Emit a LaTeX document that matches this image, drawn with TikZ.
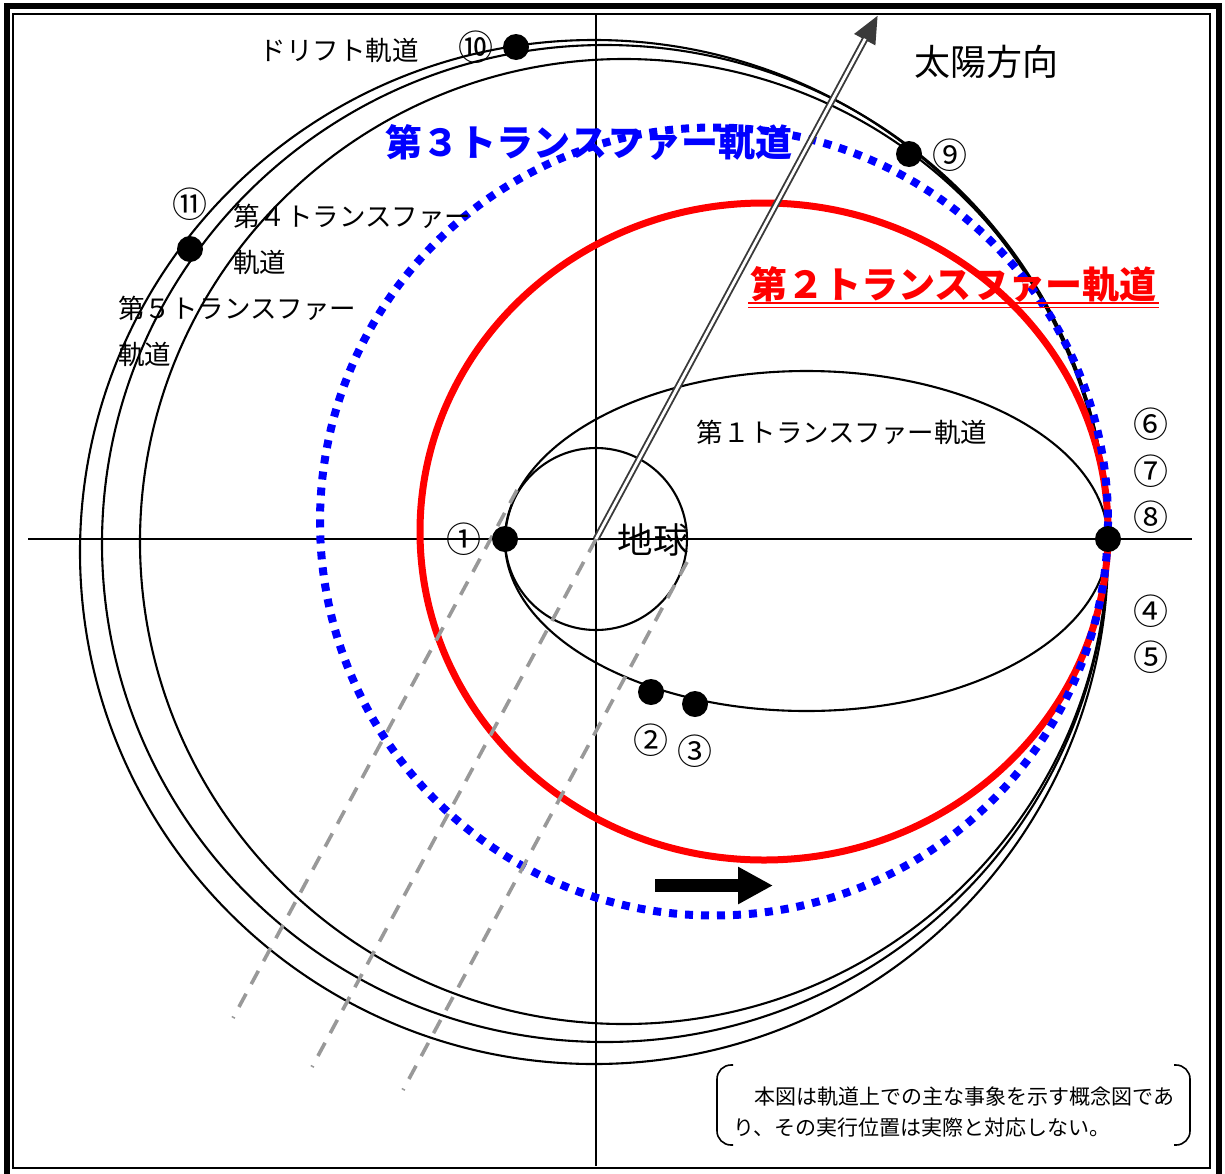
\documentclass[tikz,border=0pt]{standalone}
\usepackage{fontspec}
\usetikzlibrary{arrows.meta,positioning}
\newfontfamily\jp{Noto Sans CJK JP}
\definecolor{ShadowGray}{HTML}{999999}
\definecolor{SunGray}{HTML}{3A3A3A}

\begin{document}
\begin{tikzpicture}[x=1pt,y=-1pt]
			\tikzstyle{Event}	= [circle, fill=black, minimum size=26pt, inner sep=0pt]
			\tikzstyle{Num}		= [font=\jp\fontsize{35}{35}\selectfont, inner sep=0pt]
			\tikzstyle{Label}	= [font=\jp\fontsize{26.5}{46}\selectfont, inner sep=0pt, align=left]
			\tikzstyle{Big}		= [font=\jp\bfseries\fontsize{37}{37}\selectfont, inner sep=0pt]
			\tikzstyle{Orbit}	= [line width=2.1pt]
			\tikzstyle{Axis}	= [line width=1.8pt]
			\tikzstyle{Shadow}	= [ShadowGray, line width=3.6pt, dash pattern=on 15pt off 11pt]
			\tikzstyle{Bracket}	= [line width=1.6pt, rounded corners=14pt]

			\useasboundingbox (0,0) rectangle (1225,1173);
			\draw [line width=6pt] (6.5,6) rectangle (1218.5,1178);
			\draw [line width=2.2pt] (13,14) rectangle (1210,1168);

			\draw (28,539) -- (1192,539) [Axis];
			\draw (596,14) -- (596,1166) [Axis];

			\node (earth) at (596,539) [circle, draw, Orbit, minimum size=182pt, inner sep=0pt] {};
			\draw (806.5,541) ellipse [x radius=301.5, y radius=170] [Orbit];
			\draw (594,552) ellipse [x radius=514, y radius=512] [Orbit];
			\draw (605,543.5) ellipse [x radius=503, y radius=498.5] [Orbit];
			\draw (624,541.5) ellipse [x radius=484, y radius=482.5] [Orbit];
			\draw (764,531.5) ellipse [x radius=344, y radius=328.5] [red, line width=7pt];
			\draw (714,521.5) circle [radius=394] [blue, line width=8pt, dash pattern=on 8pt off 8pt];

			\coordinate (sh1) at (517,490);
			\coordinate (sh3) at (687,562);
			\draw (sh1) -- ++(-284,528) [Shadow];
			\draw (earth.center) -- ++(-284,528) [Shadow];
			\draw (sh3) -- ++(-284,528) [Shadow];

			\coordinate (sun) at (878,15);
			\draw [-{Triangle[length=28pt,width=22pt]}] (earth.center) to (sun) [SunGray, line width=6.6pt];
			\draw [-] (earth.center) to (sun) [white, line width=2.8pt, shorten >=27pt];

			\coordinate (m1) at (655,885.5);
			\coordinate (m2) at (773,885.5);
			\draw [-{Triangle[length=35pt,width=35pt]}] (m1) to (m2) [line width=13pt];

			\node (e1) at (505,539) [Event] {};
			\node (e2) at (651,692) [Event] {};
			\node (e3) at (695,704) [Event] {};
			\node (e8) at (1108,539) [Event] {};
			\node (e9) at (909,154) [Event] {};
			\node (e10) at (516,47) [Event] {};
			\node (e11) at (190,249) [Event] {};

			\node (n1) at (464,539) [Num] {①};
			\node (n2) at (651,740) [Num] {②};
			\node (n3) at (695,751) [Num] {③};
			\node (n4) at (1151,611) [Num] {④};
			\node (n5) at (1151,657) [Num] {⑤};
			\node (n6) at (1151,424) [Num] {⑥};
			\node (n7) at (1151,471) [Num] {⑦};
			\node (n8) at (1151,517) [Num] {⑧};
			\node (n9) at (950,155) [Num] {⑨};
			\node (n10) at (476,47) [Num] {⑩};
			\node (n11) at (190,204) [Num] {⑪};

			\node (drift) at (339,50) [Label] {ドリフト軌道};
			\node (tr4) at (233,239.5) [Label, anchor=west] {第４トランスファー\\軌道};
			\node (tr5) at (118,331) [Label, anchor=west] {第５トランスファー\\軌道};
			\node (tr1) at (842,432) [Label] {第１トランスファー軌道};
			\node (tr3) at (589,142) [Big, blue] {第３トランスファー軌道};
			\node (tr2) at (953.5,284) [Big, red] {第２トランスファー軌道};
			\draw (748,303) -- (1159,303) [red, line width=1.6pt];
			\draw (748,307.5) -- (1159,307.5) [red, line width=1.6pt];
			\node (earthname) at (653,540) [font=\jp\fontsize{35.5}{36}\selectfont, inner sep=0pt] {地球};
			\node (sunname) at (986,62) [font=\jp\fontsize{36}{36}\selectfont, inner sep=0pt] {太陽方向};

			\node (note) at (733,1111.5) [anchor=west, font=\jp\fontsize{21}{31}\selectfont, align=left, inner sep=0pt] {　本図は軌道上での主な事象を示す概念図であ\\り、その実行位置は実際と対応しない。};
			\draw [Bracket] (733,1065) -- (717,1065) -- (717,1145) -- (733,1145);
			\draw [Bracket] (1174,1065) -- (1190,1065) -- (1190,1145) -- (1174,1145);
		\end{tikzpicture}
\end{document}
